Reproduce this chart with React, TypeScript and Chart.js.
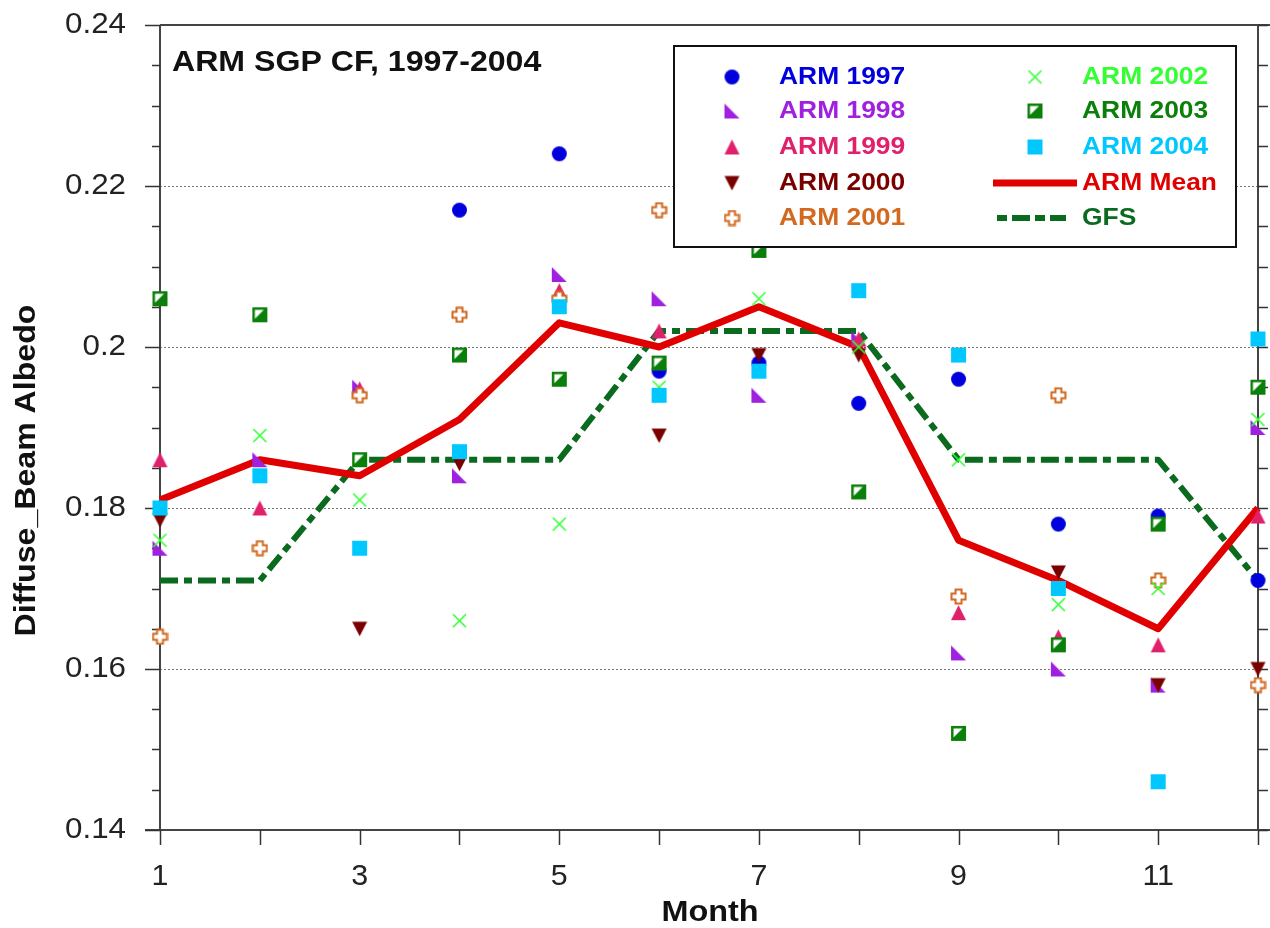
import { useEffect, useRef } from 'react';
import { Chart, registerables } from 'chart.js';

Chart.register(...registerables);

// ---------- data ----------
const months = [1, 2, 3, 4, 5, 6, 7, 8, 9, 10, 11, 12];
const arm1997 = [null, null, null, 0.217, 0.224, 0.197, 0.198, 0.193, 0.196, 0.178, 0.179, 0.171];
const arm1998 = [0.175, 0.186, 0.195, 0.184, 0.209, 0.206, 0.194, 0.201, 0.162, 0.160, 0.158, 0.190];
const arm1999 = [0.186, 0.180, 0.1948, null, 0.207, 0.202, null, 0.201, 0.167, 0.164, 0.163, 0.179];
const arm2000 = [0.1785, null, 0.165, 0.1855, null, 0.189, 0.199, 0.199, null, 0.172, 0.158, 0.160];
const arm2001 = [0.164, 0.175, 0.194, 0.204, 0.206, 0.217, 0.229, 0.217, 0.169, 0.194, 0.171, 0.158];
const arm2002 = [0.176, 0.189, 0.181, 0.166, 0.178, 0.195, 0.206, 0.200, 0.186, 0.168, 0.170, 0.191];
const arm2003 = [0.206, 0.204, 0.186, 0.199, 0.196, 0.198, 0.212, 0.182, 0.152, 0.163, 0.178, 0.195];
const arm2004 = [0.180, 0.184, 0.175, 0.187, 0.205, 0.194, 0.197, 0.207, 0.199, 0.170, 0.146, 0.201];
const armMean = [0.181, 0.186, 0.184, 0.191, 0.203, 0.200, 0.205, 0.200, 0.176, 0.171, 0.165, 0.180];
const gfs = [0.171, 0.171, 0.186, 0.186, 0.186, 0.202, 0.202, 0.202, 0.186, 0.186, 0.186, 0.171];

const yMajorValues = [0.14, 0.16, 0.18, 0.2, 0.22, 0.24];
const yMajorLabels = ['0.14', '0.16', '0.18', '0.2', '0.22', '0.24'];
const yMinorCount = 20; // minor ticks between 0.14 and 0.24 (every 0.005)
const xLabelMonths = [1, 3, 5, 7, 9, 11];
const xLabels = ['1', '3', '5', '7', '9', '11'];

const titleText = 'ARM SGP CF, 1997-2004';
const xTitle = 'Month';
const yTitle = 'Diffuse_Beam Albedo';

const pointSeries = [
  { label: 'ARM 1997', data: arm1997, color: '#0000dd', marker: 'circle' },
  { label: 'ARM 1998', data: arm1998, color: '#a020e0', marker: 'rtri' },
  { label: 'ARM 1999', data: arm1999, color: '#e0206a', marker: 'tri' },
  { label: 'ARM 2000', data: arm2000, color: '#7a0000', marker: 'dtri' },
  { label: 'ARM 2001', data: arm2001, color: '#d2691e', marker: 'plus' },
  { label: 'ARM 2002', data: arm2002, color: '#33ff33', marker: 'x' },
  { label: 'ARM 2003', data: arm2003, color: '#0a7f0a', marker: 'half' },
  { label: 'ARM 2004', data: arm2004, color: '#00c8ff', marker: 'square' },
];
const meanColor = '#e00000';
const gfsColor = '#0a6a1e';
const gfsDash = [18, 6, 8, 6];

const FONT = '"Liberation Sans", Arial, sans-serif';

function makeMarker(kind: string, color: string): HTMLCanvasElement {
  const c = document.createElement('canvas');
  const s = 17;
  c.width = s;
  c.height = s;
  const g = c.getContext('2d') as CanvasRenderingContext2D;
  g.fillStyle = color;
  g.strokeStyle = color;
  g.beginPath();
  switch (kind) {
    case 'circle':
      g.arc(8.5, 8.5, 7.5, 0, Math.PI * 2);
      g.fill();
      break;
    case 'rtri':
      g.moveTo(1, 1);
      g.lineTo(1, 16);
      g.lineTo(16, 16);
      g.closePath();
      g.fill();
      break;
    case 'tri':
      g.moveTo(8.5, 1);
      g.lineTo(16, 16);
      g.lineTo(1, 16);
      g.closePath();
      g.fill();
      break;
    case 'dtri':
      g.moveTo(1, 1.5);
      g.lineTo(16, 1.5);
      g.lineTo(8.5, 16);
      g.closePath();
      g.fill();
      break;
    case 'plus': {
      const pts = [
        [5.5, 1.5], [11.5, 1.5], [11.5, 5.5], [15.5, 5.5], [15.5, 11.5], [11.5, 11.5],
        [11.5, 15.5], [5.5, 15.5], [5.5, 11.5], [1.5, 11.5], [1.5, 5.5], [5.5, 5.5],
      ];
      g.moveTo(pts[0][0], pts[0][1]);
      for (let i = 1; i < pts.length; i++) g.lineTo(pts[i][0], pts[i][1]);
      g.closePath();
      g.fillStyle = '#ffffff';
      g.fill();
      g.lineWidth = 2;
      g.stroke();
      break;
    }
    case 'x':
      g.lineWidth = 1.6;
      g.moveTo(2, 2);
      g.lineTo(15, 15);
      g.moveTo(15, 2);
      g.lineTo(2, 15);
      g.stroke();
      break;
    case 'half':
      g.fillRect(1, 1, 15, 15);
      g.fillStyle = '#ffffff';
      g.beginPath();
      g.moveTo(3.5, 3.5);
      g.lineTo(12.5, 3.5);
      g.lineTo(3.5, 12.5);
      g.closePath();
      g.fill();
      break;
    default:
      g.fillRect(1, 1, 15, 15);
  }
  return c;
}

function drawText(
  ctx: CanvasRenderingContext2D,
  text: string,
  x: number,
  y: number,
  font: string,
  color: string,
  align: CanvasTextAlign,
  sx: number,
  rot = 0
) {
  ctx.save();
  ctx.translate(x, y);
  if (rot) ctx.rotate(rot);
  ctx.scale(sx, 1);
  ctx.font = font;
  ctx.fillStyle = color;
  ctx.textAlign = align;
  ctx.textBaseline = 'middle';
  ctx.fillText(text, 0, 0);
  ctx.restore();
}

function line(ctx: CanvasRenderingContext2D, x1: number, y1: number, x2: number, y2: number) {
  ctx.beginPath();
  ctx.moveTo(x1, y1);
  ctx.lineTo(x2, y2);
  ctx.stroke();
}

export default function App() {
  const ref = useRef<HTMLCanvasElement | null>(null);

  useEffect(() => {
    const canvas = ref.current;
    if (!canvas) return;
    const markers = pointSeries.map((s) => makeMarker(s.marker, s.color));

    const toPoints = (arr: (number | null)[]) =>
      months
        .map((m, i) => ({ x: m, y: arr[i] }))
        .filter((p) => p.y !== null && p.y !== undefined) as { x: number; y: number }[];

    const datasets: any[] = pointSeries.map((s, i) => ({
      label: s.label,
      data: toPoints(s.data),
      showLine: false,
      pointStyle: markers[i],
      pointRadius: 8,
      pointHoverRadius: 8,
      borderColor: s.color,
      backgroundColor: s.color,
      clip: false,
      order: pointSeries.length - i,
    }));
    datasets.push({
      label: 'ARM Mean',
      data: toPoints(armMean),
      showLine: true,
      pointRadius: 0,
      borderColor: meanColor,
      backgroundColor: meanColor,
      borderWidth: 7,
      borderJoinStyle: 'round',
      clip: false,
      order: 19,
    });
    datasets.push({
      label: 'GFS',
      data: toPoints(gfs),
      showLine: true,
      pointRadius: 0,
      borderColor: gfsColor,
      backgroundColor: gfsColor,
      borderWidth: 6,
      borderDash: gfsDash,
      borderJoinStyle: 'round',
      clip: false,
      order: 20,
    });

    const framePlugin = {
      id: 'framePlugin',
      beforeDatasetsDraw(chart: any) {
        const ctx: CanvasRenderingContext2D = chart.ctx;
        const a = chart.chartArea;
        const xs = chart.scales.x;
        const ys = chart.scales.y;
        const W = chart.width;
        ctx.save();
        // dotted grid at inner majors
        ctx.strokeStyle = '#777';
        ctx.lineWidth = 1;
        ctx.setLineDash([2, 2]);
        yMajorValues.forEach((v) => {
          if (v <= ys.min + 1e-9 || v >= ys.max - 1e-9) return;
          const py = Math.round(ys.getPixelForValue(v)) + 0.5;
          line(ctx, a.left, py, a.right, py);
        });
        ctx.setLineDash([]);
        // frame
        ctx.strokeStyle = '#444';
        ctx.lineWidth = 2;
        line(ctx, a.left, a.top, a.left, a.bottom);
        line(ctx, a.right, a.top, a.right, a.bottom);
        line(ctx, a.left - 15, a.bottom, W, a.bottom);
        line(ctx, a.left, a.top, W, a.top);
        // y ticks
        ctx.strokeStyle = '#333';
        ctx.lineWidth = 1.5;
        for (let i = 0; i <= yMinorCount; i++) {
          const v = ys.min + ((ys.max - ys.min) * i) / yMinorCount;
          const major = i % 4 === 0;
          const py = Math.round(ys.getPixelForValue(v)) + 0.5;
          line(ctx, a.left - (major ? 15 : 8), py, a.left, py);
          line(ctx, a.right, py, a.right + 10, py);
        }
        // x ticks
        months.forEach((m) => {
          const px = Math.round(xs.getPixelForValue(m)) + 0.5;
          line(ctx, px, a.bottom, px, a.bottom + 15);
        });
        // labels
        yMajorValues.forEach((v, i) => {
          drawText(ctx, yMajorLabels[i], a.left - 34, ys.getPixelForValue(v), `29px ${FONT}`, '#222', 'right', 1.08);
        });
        xLabelMonths.forEach((m, i) => {
          drawText(ctx, xLabels[i], xs.getPixelForValue(m), a.bottom + 47, `29px ${FONT}`, '#222', 'center', 1.05);
        });
        drawText(ctx, xTitle, (a.left + a.right) / 2 + 1, a.bottom + 83, `bold 30px ${FONT}`, '#111', 'center', 1.08);
        drawText(ctx, yTitle, 27, (a.top + a.bottom) / 2 + 43, `bold 30px ${FONT}`, '#111', 'center', 1.07, -Math.PI / 2);
        ctx.restore();
      },
      afterDatasetsDraw(chart: any) {
        const ctx: CanvasRenderingContext2D = chart.ctx;
        ctx.save();
        drawText(ctx, titleText, 172, 63, `bold 30px ${FONT}`, '#111', 'left', 1.07);
        // legend box
        const bx = 674, by = 46, bw = 562, bh = 201;
        ctx.fillStyle = '#ffffff';
        ctx.fillRect(bx, by, bw, bh);
        ctx.strokeStyle = '#111';
        ctx.lineWidth = 2;
        ctx.strokeRect(bx, by, bw, bh);
        const rows = [77, 111, 147, 183, 218];
        const legFont = `bold 24px ${FONT}`;
        pointSeries.forEach((s, i) => {
          const col = i < 5 ? 0 : 1;
          const row = i < 5 ? i : i - 5;
          const mx = col === 0 ? 732 : 1035;
          const tx = col === 0 ? 779 : 1082;
          const my = rows[row];
          const mk = markers[i];
          ctx.drawImage(mk, mx - mk.width / 2, my - mk.height / 2);
          drawText(ctx, s.label, tx, my, legFont, s.color, 'left', 1.1);
        });
        // mean line
        ctx.lineCap = 'butt';
        ctx.strokeStyle = meanColor;
        ctx.lineWidth = 7;
        line(ctx, 993, rows[3], 1077, rows[3]);
        drawText(ctx, 'ARM Mean', 1082, rows[3], legFont, meanColor, 'left', 1.1);
        ctx.strokeStyle = gfsColor;
        ctx.lineWidth = 6;
        ctx.setLineDash([10, 5, 18, 5]);
        line(ctx, 997, rows[4], 1066, rows[4]);
        ctx.setLineDash([]);
        drawText(ctx, 'GFS', 1082, rows[4], legFont, gfsColor, 'left', 1.1);
        ctx.restore();
      },
    };

    const chart = new Chart(canvas, {
      type: 'scatter',
      data: { datasets },
      options: {
        responsive: false,
        animation: false,
        devicePixelRatio: 1,
        layout: { padding: { left: 160, top: 25, right: 12, bottom: 98 } },
        scales: {
          x: { type: 'linear', min: 1, max: 12, display: false },
          y: { type: 'linear', min: 0.14, max: 0.24, display: false },
        },
        plugins: {
          legend: { display: false },
          tooltip: { enabled: false },
        },
        events: [],
      } as any,
      plugins: [framePlugin as any],
    });
    return () => chart.destroy();
  }, []);

  return (
    <div style={{ position: 'fixed', left: 0, top: 0, width: 1270, height: 928, background: '#ffffff' }}>
      <canvas ref={ref} width={1270} height={928} style={{ display: 'block', width: 1270, height: 928 }} />
    </div>
  );
}
